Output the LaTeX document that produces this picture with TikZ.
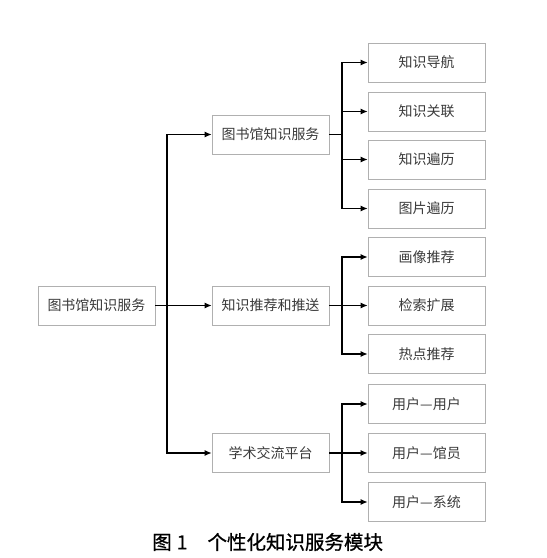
\documentclass[tikz,border=0pt]{standalone}
\usepackage{fontspec}
\newfontfamily\cjk{Noto Sans CJK SC}
\newfontfamily\capfont[FakeBold=0.8]{Noto Sans CJK SC}
\usetikzlibrary{arrows.meta}
\definecolor{boxgray}{HTML}{B0B0B0}
\definecolor{txt}{HTML}{3A3A3A}
\tikzset{
  box/.style={draw=boxgray, line width=0.7pt, minimum width=117pt, minimum height=39pt,
    inner sep=0pt, font=\cjk\fontsize{14pt}{16pt}\selectfont, text=txt},
  link/.style={line width=1.1pt, draw=black},
  arr/.style={link, -{Latex[length=7pt,width=6pt]}}
}
\begin{document}
\begin{tikzpicture}[x=1pt,y=-1pt]
\useasboundingbox (0,0) rectangle (547,558);
\node[box] (root) at (96.5,305.5) {图书馆知识服务};
\node[box] (m1) at (270.5,134.5) {图书馆知识服务};
\node[box] (m2) at (270.5,305.5) {知识推荐和推送};
\node[box] (m3) at (270.5,453) {学术交流平台};
\node[box] (l1) at (426.5,62.5) {知识导航};
\node[box] (l2) at (426.5,111.5) {知识关联};
\node[box] (l3) at (426.5,159.5) {知识遍历};
\node[box] (l4) at (426.5,208.5) {图片遍历};
\node[box] (l5) at (426.5,257) {画像推荐};
\node[box] (l6) at (426.5,305.5) {检索扩展};
\node[box] (l7) at (426.5,354) {热点推荐};
\node[box] (l8) at (426.5,404) {用户—用户};
\node[box] (l9) at (426.5,453) {用户—馆员};
\node[box] (l10) at (426.5,502) {用户—系统};
\coordinate (t) at (167,305.5);
\coordinate (b1) at (342,134.5);
\coordinate (b2) at (342,305.5);
\coordinate (b3) at (342,453);
\draw[link, line width=1.8pt] (root.east) -- (t);
\draw[arr] (t) |- (m1.west);
\draw[arr] (t) -- (m2.west);
\draw[arr] (t) |- (m3.west);
\draw[link, line width=1.8pt] (m1.east) -- (b1);
\draw[link, line width=1.8pt] (m2.east) -- (b2);
\draw[link, line width=1.8pt] (m3.east) -- (b3);
\foreach \l in {l1,l2,l3,l4} \draw[arr] (b1) |- (\l.west);
\foreach \l in {l5,l6,l7} \draw[arr] (b2) |- (\l.west);
\foreach \l in {l8,l9,l10} \draw[arr] (b3) |- (\l.west);
\node[font=\capfont\fontsize{19.5pt}{22pt}\selectfont, text=black, anchor=west, inner sep=0pt] (cap) at (152,542) {图\hspace{5pt}1\hspace{20pt}个性化知识服务模块};
\end{tikzpicture}
\end{document}
